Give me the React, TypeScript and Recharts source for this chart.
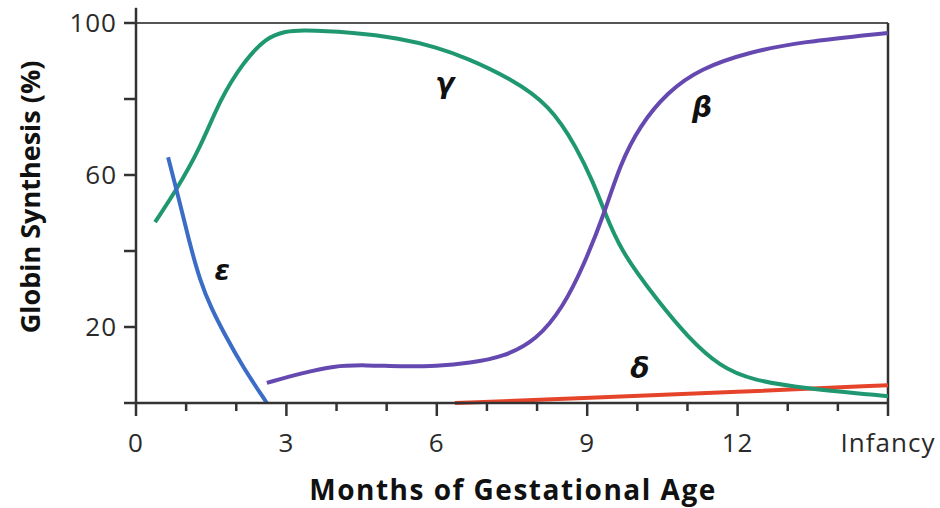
import React from 'react';
import { LineChart, Line, XAxis, YAxis, ReferenceLine, ReferenceDot } from 'recharts';

// Months of gestational age (15 = Infancy) vs. globin synthesis (%)
const epsilon: [number, number][] = [
  [0.64, 64.7], [0.85, 54], [1.05, 43], [1.28, 32], [1.5, 25], [1.75, 18.5], [2.13, 9.5], [2.61, 0],
];
const gamma: [number, number][] = [
  [0.38, 47.6], [0.78, 55.5], [1.28, 67], [1.68, 80], [2.13, 89.5], [2.6, 96.3], [3.0, 97.8],
  [3.27, 98.2], [4.27, 97.6], [5.27, 96], [6.0, 93.6], [6.6, 90.8], [7.46, 85.5], [8.26, 78.4],
  [8.8, 67], [9.12, 58], [9.32, 51.3], [9.65, 40.3], [10.4, 27], [11, 17.4], [11.65, 9.5],
  [12.3, 6], [13.3, 3.9], [15, 1.8],
];
const beta: [number, number][] = [
  [2.61, 5.3], [3.3, 7.8], [3.93, 9.8], [4.6, 10], [5.27, 9.6], [6, 9.7], [6.66, 10.5],
  [7.33, 12.1], [8, 16.6], [8.52, 25.3], [8.92, 35.8], [9.36, 50.5], [9.65, 62.6], [10.05, 73],
  [10.6, 81.8], [11.25, 88], [12.25, 92.4], [13.25, 95], [15, 97.4],
];
const delta: [number, number][] = [
  [6.36, 0], [9, 1.3], [12, 2.9], [15, 4.7],
];

const xTicks = [0, 1, 2, 3, 4, 5, 6, 7, 8, 9, 10, 11, 12, 13, 14, 15];
const xLabels: Record<number, string> = { 0: '0', 3: '3', 6: '6', 9: '9', 12: '12', 15: 'Infancy' };
const yTicks = [0, 20, 40, 60, 80, 100];
const yLabels: Record<number, string> = { 20: '20', 60: '60', 100: '100' };

const greek = [
  { name: 'ε', x: 1.72, y: 34.5 },
  { name: 'γ', x: 6.16, y: 83.7 },
  { name: 'β', x: 11.29, y: 77.6 },
  { name: 'δ', x: 10.05, y: 8.7 },
];

const toRows = (pts: [number, number][]) => pts.map(([x, y]) => ({ x, y }));

const AXIS = '#333333';
const FONT = '"Open Sans", "DejaVu Sans", sans-serif';

const XTick = (props: any) => {
  const { x, y, payload } = props;
  const v = payload.value as number;
  const major = v % 3 === 0;
  return (
    <g>
      <line x1={x} y1={y} x2={x} y2={y + (major ? 13 : 8)} stroke={AXIS} strokeWidth={2.5} />
      {major && (
        <text x={x} y={y + 49} textAnchor="middle" fontSize={26} letterSpacing={1} fontFamily={FONT} fill="#2a2a2a">
          {xLabels[v]}
        </text>
      )}
    </g>
  );
};

const GreekLabel = (text: string) => (props: any) => {
  const { viewBox } = props;
  const cx = viewBox.x + (viewBox.width || 0) / 2;
  const cy = viewBox.y + (viewBox.height || 0) / 2;
  return (
    <text
      x={cx}
      y={cy}
      dy="0.3em"
      textAnchor="middle"
      fontSize={28}
      fontWeight="bold"
      fontStyle="italic"
      fontFamily='"DejaVu Sans", sans-serif'
      fill="#111"
    >
      {text}
    </text>
  );
};

export default function App() {
  return (
    <div style={{ position: 'absolute', left: 0, top: 0, width: 940, height: 508, background: '#fff' }}>
      <LineChart width={940} height={508} margin={{ top: 23, right: 52, bottom: 0, left: 0 }}>
        <XAxis
          dataKey="x"
          type="number"
          domain={[0, 15]}
          ticks={xTicks}
          interval={0}
          allowDataOverflow
          height={105}
          axisLine={{ stroke: AXIS, strokeWidth: 2.5 }}
          tickLine={false}
          tickSize={0}
          tickMargin={0}
          tick={<XTick />}
          label={{
            content: () => (
              <text x={513} y={500} textAnchor="middle" fontSize={28} letterSpacing={1.5} fontWeight="bold" fontFamily={FONT} fill="#111">
                Months of Gestational Age
              </text>
            ),
          }}
        />
        <YAxis
          type="number"
          domain={[0, 100]}
          ticks={yTicks}
          interval={0}
          width={136}
          axisLine={{ stroke: AXIS, strokeWidth: 2.5 }}
          tickLine={{ stroke: AXIS, strokeWidth: 2.5 }}
          tickSize={12}
          tickMargin={7}
          tickFormatter={(v: number) => yLabels[v] ?? ''}
          tick={{ fontSize: 26, letterSpacing: 1, fontFamily: FONT, fill: '#2a2a2a' }}
          label={{
            content: () => (
              <text
                x={0}
                y={0}
                transform="translate(40,197) rotate(-90)"
                textAnchor="middle"
                fontSize={27}
                fontWeight="bold"
                fontFamily={FONT}
                fill="#111"
              >
                Globin Synthesis (%)
              </text>
            ),
          }}
        />
        <ReferenceLine y={100} stroke="#555" strokeWidth={2} />
        <ReferenceLine x={15} stroke={AXIS} strokeWidth={2.5} />
        <ReferenceLine
          segment={[{ x: 0, y: 100 }, { x: 0, y: 104 }]}
          ifOverflow="visible"
          stroke={AXIS}
          strokeWidth={2.5}
        />
        <Line data={toRows(delta)} dataKey="y" type="basis" stroke="#e5442b" strokeWidth={4} dot={false} isAnimationActive={false} />
        <Line data={toRows(gamma)} dataKey="y" type="basis" stroke="#1f9872" strokeWidth={4} dot={false} isAnimationActive={false} />
        <Line data={toRows(beta)} dataKey="y" type="basis" stroke="#6649b0" strokeWidth={4} dot={false} isAnimationActive={false} />
        <Line data={toRows(epsilon)} dataKey="y" type="basis" stroke="#3b6dc6" strokeWidth={4} dot={false} isAnimationActive={false} />
        {greek.map((g) => (
          <ReferenceDot
            key={g.name}
            x={g.x}
            y={g.y}
            r={0}
            fill="none"
            stroke="none"
            label={{ content: GreekLabel(g.name) }}
          />
        ))}
      </LineChart>
    </div>
  );
}
